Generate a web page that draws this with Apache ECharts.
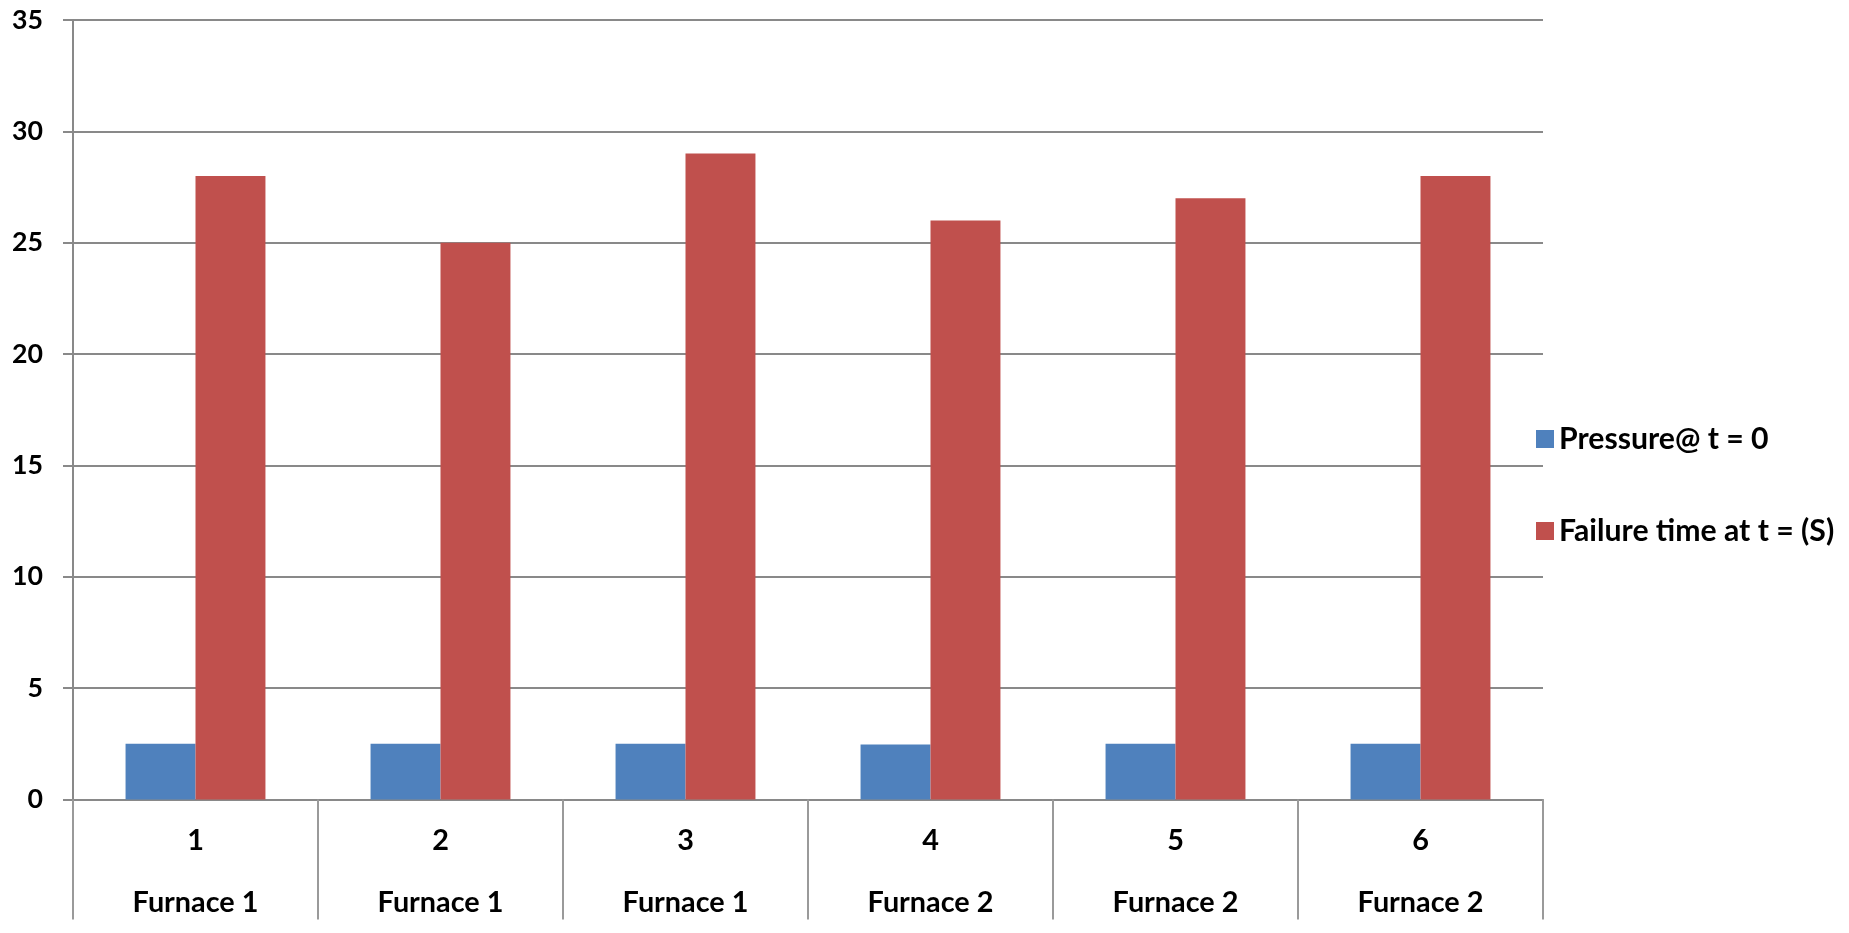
<!DOCTYPE html>
<html>
<head>
<meta charset="utf-8">
<script src="https://cdn.jsdelivr.net/npm/echarts@6/dist/echarts.min.js"></script>
<style>html,body{margin:0;padding:0;background:#fff}#c{width:1849px;height:933px}</style>
</head>
<body>
<div id="c"></div>
<script>
const runNumbers = ['1', '2', '3', '4', '5', '6'];
const furnaces = ['Furnace 1', 'Furnace 1', 'Furnace 1', 'Furnace 2', 'Furnace 2', 'Furnace 2'];
const pressureValues = [2.5, 2.5, 2.5, 2.47, 2.5, 2.5];
const failureValues = [28, 25, 29, 26, 27, 28];
const seriesNames = ['Pressure@ t = 0', 'Failure time at t = (S)'];
const yTicks = { min: 0, max: 35, interval: 5 };

const categories = runNumbers.map((n, i) => n + '\n' + furnaces[i]);
const FONT = 'Lato';

// fit font sizes to the widths of text in the reference
const ctx = document.createElement('canvas').getContext('2d');
function fit(text, targetWidth) {
  ctx.font = 'bold 100px ' + FONT;
  return Math.round(100 * targetWidth / ctx.measureText(text).width * 10) / 10;
}
const legendSize = fit(seriesNames[1], 275);
const xLabelSize = fit('Furnace 1', 126);
const yLabelSize = fit('35', 31);

const chart = echarts.init(document.getElementById('c'));
chart.setOption({
  animation: false,
  backgroundColor: '#fff',
  grid: { left: 73, right: 306, top: 20, bottom: 120, containLabel: false },
  legend: {
    orient: 'vertical',
    left: 1531,
    top: 419,
    itemWidth: 18,
    itemHeight: 18,
    itemGap: 62,
    icon: 'rect',
    textStyle: { fontFamily: FONT, fontWeight: 'bold', fontSize: legendSize, lineHeight: 30, color: '#000' },
    data: seriesNames
  },
  xAxis: {
    type: 'category',
    data: categories,
    axisLine: { lineStyle: { color: '#898989', width: 2 } },
    axisTick: { show: true, length: 120, lineStyle: { color: '#9a9a9a', width: 2 } },
    axisLabel: {
      fontFamily: FONT, fontWeight: 'bold', fontSize: xLabelSize, color: '#000',
      lineHeight: 61.3, margin: 11, interval: 0
    }
  },
  yAxis: {
    type: 'value',
    min: yTicks.min, max: yTicks.max, interval: yTicks.interval,
    axisLine: { show: true, lineStyle: { color: '#898989', width: 2 } },
    axisTick: { show: true, length: 10, lineStyle: { color: '#898989', width: 2 } },
    splitLine: { lineStyle: { color: '#898989', width: 2 } },
    axisLabel: { fontFamily: FONT, fontWeight: 'bold', fontSize: yLabelSize, color: '#000', margin: 30 }
  },
  series: [
    { name: seriesNames[0], type: 'bar', data: pressureValues, barGap: '0%', barCategoryGap: '42.9%',
      itemStyle: { color: '#4F81BD' } },
    { name: seriesNames[1], type: 'bar', data: failureValues, barGap: '0%', barCategoryGap: '42.9%',
      itemStyle: { color: '#C0504D' } }
  ]
});
</script>
</body>
</html>
